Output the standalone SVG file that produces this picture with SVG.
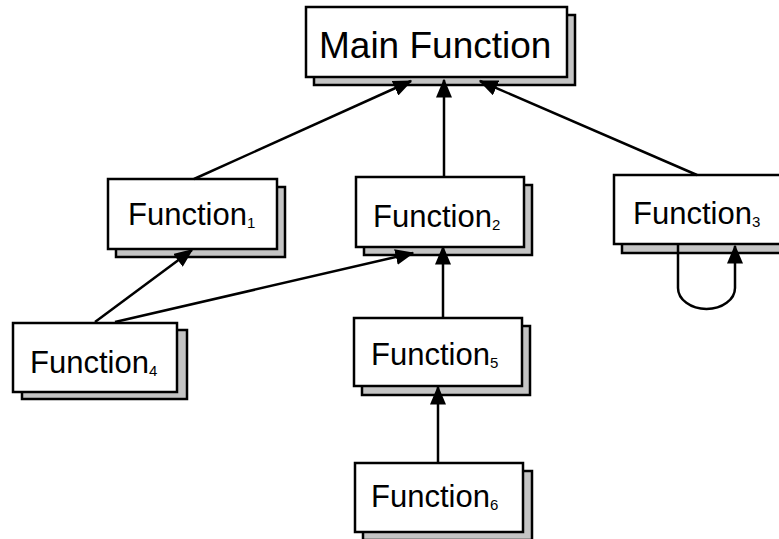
<svg xmlns="http://www.w3.org/2000/svg" width="779" height="539" viewBox="0 0 779 539">
<style>
.sh{fill:#c4c4c4;stroke:#000;stroke-width:2.5}
.bx{fill:#fff;stroke:#000;stroke-width:2.5}
.t{font-family:"Liberation Sans",Arial,sans-serif;font-size:31px;fill:#000}
.tm{font-family:"Liberation Sans",Arial,sans-serif;font-size:37px;fill:#000}
.sub{font-size:15px}
.c{fill:none;stroke:#000;stroke-width:2.5;marker-end:url(#ah)}
</style>
<defs>
<marker id="ah" markerUnits="userSpaceOnUse" markerWidth="19" markerHeight="16" refX="17.5" refY="8" orient="auto" viewBox="0 0 19 16">
<path d="M0,0 L19,8 L0,16 z" fill="#000"/>
</marker>
</defs>
<rect width="779" height="539" fill="#fff"/>
<g id="main">
<rect class="sh" x="314" y="15" width="261" height="70"/>
<rect class="bx" x="306" y="7" width="261" height="70"/>
<text class="tm" x="319" y="58">Main Function</text>
</g>
<g id="f1">
<rect class="sh" x="116" y="187" width="169" height="70"/>
<rect class="bx" x="108" y="179" width="169" height="70"/>
<text class="t" x="128" y="225">Function<tspan class="sub" dy="3">1</tspan></text>
</g>
<g id="f2">
<rect class="sh" x="364" y="185" width="168" height="70"/>
<rect class="bx" x="356" y="177" width="168" height="70"/>
<text class="t" x="373" y="227">Function<tspan class="sub" dy="3">2</tspan></text>
</g>
<g id="f3">
<rect class="sh" x="622" y="183" width="200" height="70"/>
<rect class="bx" x="614" y="175" width="200" height="69"/>
<text class="t" x="633" y="224">Function<tspan class="sub" dy="3">3</tspan></text>
</g>
<g id="f4">
<rect class="sh" x="22" y="330" width="165" height="69"/>
<rect class="bx" x="13" y="323" width="164" height="69"/>
<text class="t" x="30" y="373">Function<tspan class="sub" dy="3">4</tspan></text>
</g>
<g id="f5">
<rect class="sh" x="362" y="326" width="168" height="69"/>
<rect class="bx" x="354" y="318" width="168" height="68"/>
<text class="t" x="371" y="365">Function<tspan class="sub" dy="3">5</tspan></text>
</g>
<g id="f6">
<rect class="sh" x="363" y="471" width="169" height="69"/>
<rect class="bx" x="355" y="463" width="168" height="69"/>
<text class="t" x="371" y="507">Function<tspan class="sub" dy="3">6</tspan></text>
</g>
<g id="connectors">
<path class="c" d="M194,179 L411,81"/>
<path class="c" d="M444,177 L444,80"/>
<path class="c" d="M697,175 L480,81"/>
<path class="c" d="M95,322 L192,250"/>
<path class="c" d="M115,322 L413,253"/>
<path class="c" d="M443,318 L443,247"/>
<path class="c" d="M438,463 L438,387"/>
<path class="c" d="M678,244 V288 A28.5,21 0 0 0 735,288 V246"/>
</g>
</svg>
